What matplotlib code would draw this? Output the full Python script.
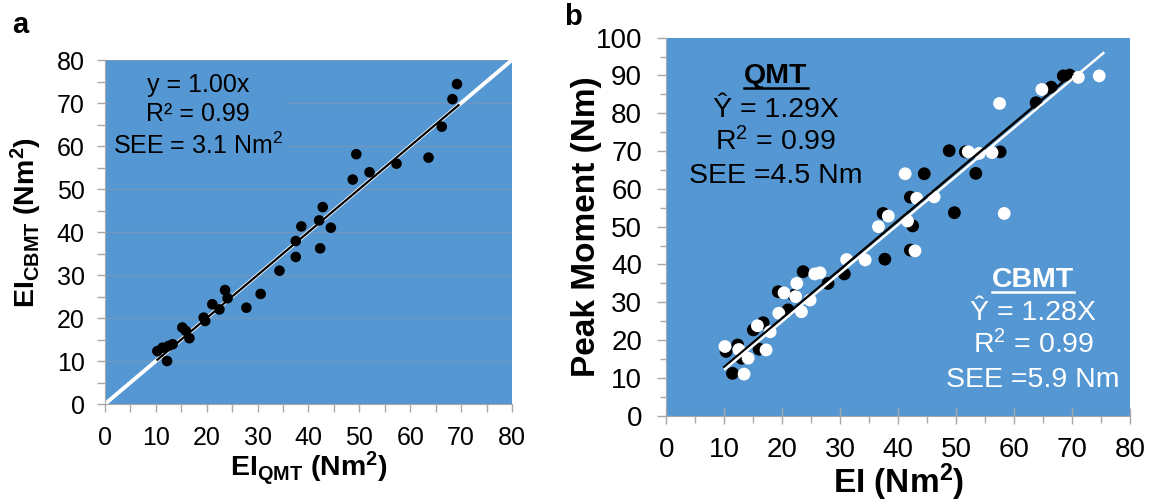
import matplotlib
matplotlib.use('Agg')
import matplotlib.pyplot as plt
import matplotlib.patheffects as pe
from matplotlib.lines import Line2D
from matplotlib.ticker import MultipleLocator
from matplotlib.transforms import IdentityTransform

plt.rcParams['font.family'] = ['Liberation Sans', 'DejaVu Sans']
plt.rcParams['mathtext.fontset'] = 'custom'
plt.rcParams['mathtext.rm'] = 'Liberation Sans'
plt.rcParams['mathtext.bf'] = 'Liberation Sans:bold'
plt.rcParams['mathtext.it'] = 'Liberation Sans:italic'

# panel a: EI from QMT vs EI from CBMT
ei_qmt = [10.3, 11.3, 12.2, 12.5, 13.3, 15.2, 15.9, 16.6, 19.4, 19.7, 21.1, 22.5,
          23.6, 24.1, 27.8, 30.6, 34.3, 37.5, 37.5, 38.6, 42.1, 42.3, 42.8, 44.4,
          48.7, 49.4, 52.0, 57.3, 63.6, 66.2, 68.3, 69.2]
ei_cbmt = [12.3, 13.1, 10.0, 13.5, 13.9, 17.8, 17.0, 15.3, 20.1, 19.3, 23.2, 22.0,
           26.5, 24.6, 22.4, 25.6, 31.0, 34.2, 37.9, 41.3, 42.7, 36.2, 45.8, 41.0,
           52.2, 58.1, 53.9, 55.9, 57.3, 64.5, 70.9, 74.4]
slope_a = 1.00
fit_range_a = [10.3, 69.5]

# panel b: peak moment vs EI
qmt_x = [10.3, 11.4, 12.3, 13.0, 15.0, 16.0, 16.7, 19.3, 21.0, 22.0, 23.6, 27.9,
         30.7, 37.7, 37.4, 42.1, 42.5, 42.1, 44.5, 48.8, 49.7, 51.6, 53.4, 57.6,
         63.8, 66.4, 68.5, 69.6]
qmt_y = [17.0, 11.2, 18.7, 15.2, 22.7, 17.6, 24.6, 32.8, 28.0, 31.8, 38.1, 35.0,
         37.5, 41.4, 53.5, 57.8, 50.2, 43.8, 64.0, 70.1, 53.7, 69.8, 64.1, 69.8,
         82.8, 86.9, 89.9, 90.1]
cbmt_x = [10.1, 12.5, 13.4, 14.1, 15.7, 17.2, 17.9, 19.4, 20.3, 22.3, 22.5, 23.3,
          24.8, 25.6, 26.5, 31.1, 34.3, 36.6, 38.3, 41.2, 41.6, 42.9, 43.2, 46.2,
          52.1, 54.0, 56.2, 57.5, 58.3, 64.8, 71.1, 74.7]
cbmt_y = [18.3, 17.5, 11.0, 15.2, 23.8, 17.4, 22.2, 27.1, 32.5, 31.5, 35.0, 27.5,
          30.6, 37.5, 37.8, 41.3, 41.2, 50.0, 52.8, 64.0, 51.5, 43.6, 57.5, 57.9,
          69.8, 69.4, 69.6, 82.6, 53.5, 86.3, 89.5, 89.9]
slope_qmt = 1.29
slope_cbmt = 1.28
fit_range_qmt = [10.0, 70.0]
fit_range_cbmt = [9.9, 75.2]

qmt_lines = ['QMT', 'Ŷ = 1.29X', r'R$^{2}$ = 0.99', 'SEE =4.5 Nm']
cbmt_lines = ['CBMT', 'Ŷ = 1.28X', r'R$^{2}$ = 0.99', 'SEE =5.9 Nm']

BLUE = '#5597d2'
GRID = '#7296bd'
SPINE = '#a8a8a8'

fig = plt.figure(figsize=(11.51, 5.01), dpi=100)
ax1 = fig.add_axes([0.0912, 0.1936, 0.3536, 0.6866])
ax2 = fig.add_axes([0.579, 0.1703, 0.4027, 0.7545])

for ax in (ax1, ax2):
    ax.set_facecolor(BLUE)
    ax.spines['top'].set_visible(False)
    ax.spines['right'].set_visible(False)
    ax.spines['left'].set_color(SPINE)
    ax.spines['bottom'].set_color(SPINE)
    ax.set_axisbelow(True)

# ---- panel a ----
ax1.set_xlim(0, 80)
ax1.set_ylim(0, 80)
ax1.xaxis.set_major_locator(MultipleLocator(10))
ax1.yaxis.set_major_locator(MultipleLocator(10))
ax1.xaxis.set_minor_locator(MultipleLocator(5))
ax1.yaxis.set_minor_locator(MultipleLocator(5))
ax1.tick_params(which='both', direction='out', color=SPINE, length=5.5, width=1,
                labelsize=18)
ax1.tick_params(axis='x', pad=10)
ax1.tick_params(axis='y', pad=9)
ax1.yaxis.grid(True, which='major', color=GRID, lw=0.9)

ax1.plot([0, 80], [0, 80], color='white', lw=2.8, zorder=2)
ax1.scatter(ei_qmt, ei_cbmt, s=58, color='black', edgecolors='none', zorder=3)
ax1.plot(fit_range_a, [slope_a * v for v in fit_range_a], color='black', lw=1.6, zorder=4)

ax1.text(18.3, 67.0, 'y = 1.00x\nR² = 0.99\nSEE = 3.1 Nm$^{2}$', ha='center', va='center',
         multialignment='center', fontsize=18, linespacing=1.3,
         bbox=dict(boxstyle='square,pad=0.12', fc=BLUE, ec='none'), zorder=2.5)

ax1.set_xlabel(r'EI$_{\mathbf{QMT}}$ (Nm$^{\mathbf{2}}$)', fontsize=20.5, fontweight='bold')
ax1.set_ylabel(r'EI$_{\mathbf{CBMT}}$ (Nm$^{\mathbf{2}}$)', fontsize=20.5, fontweight='bold')
ax1.xaxis.set_label_coords(0.5, -0.186)
ax1.xaxis.label.set_va('center')
ax1.yaxis.set_label_coords(-0.192, 0.529)
ax1.yaxis.label.set_va('center')

# ---- panel b ----
ax2.set_xlim(0, 80)
ax2.set_ylim(0, 100)
ax2.xaxis.set_major_locator(MultipleLocator(10))
ax2.yaxis.set_major_locator(MultipleLocator(10))
ax2.xaxis.set_minor_locator(MultipleLocator(5))
ax2.yaxis.set_minor_locator(MultipleLocator(5))
ax2.tick_params(axis='x', which='major', direction='inout', color=SPINE, length=12,
                width=1, labelsize=20, pad=9)
ax2.tick_params(axis='x', which='minor', direction='out', color=SPINE, length=5, width=1)
ax2.tick_params(axis='y', which='major', direction='out', color=SPINE, length=6.5,
                width=1, labelsize=20, pad=11)
ax2.tick_params(axis='y', which='minor', direction='out', color=SPINE, length=4.5, width=1)

ax2.scatter(qmt_x, qmt_y, s=85, color='black', edgecolors='none', zorder=3)
ax2.scatter(cbmt_x, cbmt_y, s=85, color='white', edgecolors='none', zorder=3.2)
ax2.plot(fit_range_qmt, [slope_qmt * v for v in fit_range_qmt], color='black', lw=1.8, zorder=4)
ax2.plot(fit_range_cbmt, [slope_cbmt * v for v in fit_range_cbmt], color='white', lw=1.8,
         zorder=4.1, path_effects=[pe.Stroke(offset=(0.9, -0.9))])

# annotation blocks, one text per line placed on its baseline
fs_b = 20.5
headers = []
for lines, xc, baselines, col in [(qmt_lines, 18.9, [87.9, 79.1, 70.3, 61.5], 'black'),
                                  (cbmt_lines, 63.3, [34.1, 25.3, 16.5, 7.7], 'white')]:
    for i, (s, yb) in enumerate(zip(lines, baselines)):
        t = ax2.text(xc, yb, s, ha='center', va='baseline', fontsize=fs_b, color=col,
                     fontweight='bold' if i == 0 else 'normal')
        if i == 0:
            headers.append(t)

ax2.set_xlabel(r'EI (Nm$^{\mathbf{2}}$)', fontsize=24, fontweight='bold')
ax2.set_ylabel('Peak Moment (Nm)', fontsize=24, fontweight='bold')
ax2.xaxis.set_label_coords(0.5, -0.2055)
ax2.xaxis.label.set_va('baseline')
ax2.yaxis.set_label_coords(-0.173, 0.499)
ax2.yaxis.label.set_va('center')

fig.text(12 / 1151, 1 - 33 / 501, 'a', fontsize=21, fontweight='bold', va='baseline')
fig.text(564 / 1151, 1 - 25 / 501, 'b', fontsize=21, fontweight='bold', va='baseline')

# underline the QMT / CBMT headers
fig.canvas.draw()
for t in headers:
    bb = t.get_window_extent()
    yb = ax2.transData.transform(t.get_position())[1] - 5
    fig.add_artist(Line2D([bb.x0, bb.x1], [yb, yb], color=t.get_color(), lw=1.8,
                          transform=IdentityTransform()))

fig.savefig('out.png', dpi=100)
